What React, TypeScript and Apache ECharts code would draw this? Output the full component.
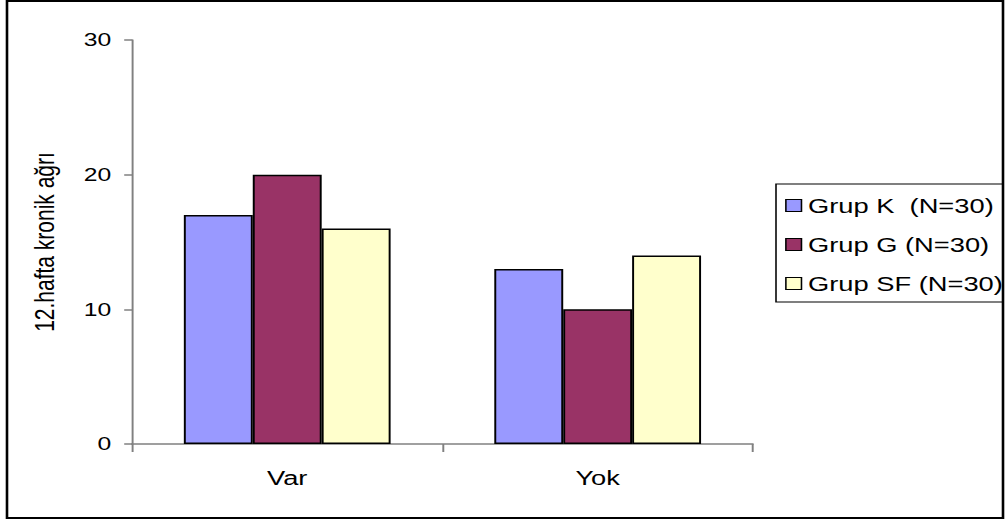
import React, { useEffect, useRef } from "react";
import * as echarts from "echarts";

// Source chart is horizontally stretched; draw at a narrower logical width and widen with scaleX.
const STRETCH = 1.3;
const PAGE_W = 1005;
const PAGE_H = 520;
const LOGICAL_W = PAGE_W / STRETCH;

const categories = ["Var", "Yok"];
const seriesNames = ["Grup K \u00a0(N=30)", "Grup G (N=30)", "Grup SF (N=30)"];
const grupK = [17, 13];
const grupG = [20, 10];
const grupSF = [16, 14];
const seriesColors = ["#9999FF", "#993366", "#FFFFCC"];
const yTicks = { min: 0, max: 30, interval: 10 };
const yAxisTitle = "12.hafta kronik ağrı";

const FONT = "'Liberation Sans', Arial, sans-serif";

export default function App() {
  const ref = useRef<HTMLDivElement>(null);

  useEffect(() => {
    if (!ref.current) return;
    const chart = echarts.init(ref.current, null, { renderer: "svg" });
    const values = [grupK, grupG, grupSF];

    chart.setOption({
      animation: false,
      backgroundColor: "#ffffff",
      textStyle: { fontFamily: FONT, color: "#000" },
      grid: {
        left: 132 / STRETCH,
        right: LOGICAL_W - 753 / STRETCH,
        top: 40,
        bottom: PAGE_H - 444,
        containLabel: false,
      },
      legend: {
        orient: "vertical",
        left: 776 / STRETCH,
        top: 184,
        padding: [11, 60, 8, 7],
        itemGap: 18,
        itemWidth: 12,
        itemHeight: 12,
        icon: "rect",
        borderColor: "#000",
        borderWidth: 1.2,
        backgroundColor: "#fff",
        itemStyle: { borderColor: "#000", borderWidth: 1.2 },
        textStyle: { fontFamily: FONT, fontSize: 21, lineHeight: 20, color: "#000" },
        data: seriesNames,
      },
      xAxis: {
        type: "category",
        data: categories,
        axisLine: { lineStyle: { color: "#808080", width: 1.5 } },
        axisTick: { show: true, length: 8, lineStyle: { color: "#808080", width: 1.5 } },
        axisLabel: { fontFamily: FONT, fontSize: 21, color: "#000", margin: 23 },
      },
      yAxis: {
        type: "value",
        min: yTicks.min,
        max: yTicks.max,
        interval: yTicks.interval,
        name: yAxisTitle,
        nameLocation: "middle",
        nameRotate: 90,
        nameGap: 57,
        nameTextStyle: { fontFamily: FONT, fontSize: 21, color: "#000" },
        axisLine: { show: true, lineStyle: { color: "#808080", width: 1.5 } },
        axisTick: { show: true, length: 6, lineStyle: { color: "#808080", width: 1.5 } },
        axisLabel: { fontFamily: FONT, fontSize: 19, color: "#000", margin: 16 },
        splitLine: { show: false },
      },
      series: seriesNames.map((name, i) => ({
        name,
        type: "bar",
        data: values[i],
        barGap: "0%",
        barCategoryGap: "33.4%",
        itemStyle: { color: seriesColors[i], borderColor: "#000", borderWidth: 1.5 },
      })),
      graphic: [
        {
          type: "rect",
          silent: true,
          z: 100,
          shape: { x: 7 / STRETCH, y: 1, width: (1003 - 7) / STRETCH, height: 517 },
          style: { fill: "none", stroke: "#000", lineWidth: 2 },
        },
        {
          // white margin outside the frame on the right
          type: "rect",
          silent: true,
          z: 99,
          shape: { x: 1004 / STRETCH, y: 0, width: 10, height: PAGE_H },
          style: { fill: "#fff" },
        },
      ],
    });

    return () => chart.dispose();
  }, []);

  return (
    <div
      ref={ref}
      style={{
        position: "absolute",
        left: 0,
        top: 0,
        width: LOGICAL_W,
        height: PAGE_H,
        transform: `scaleX(${STRETCH})`,
        transformOrigin: "0 0",
      }}
    />
  );
}
